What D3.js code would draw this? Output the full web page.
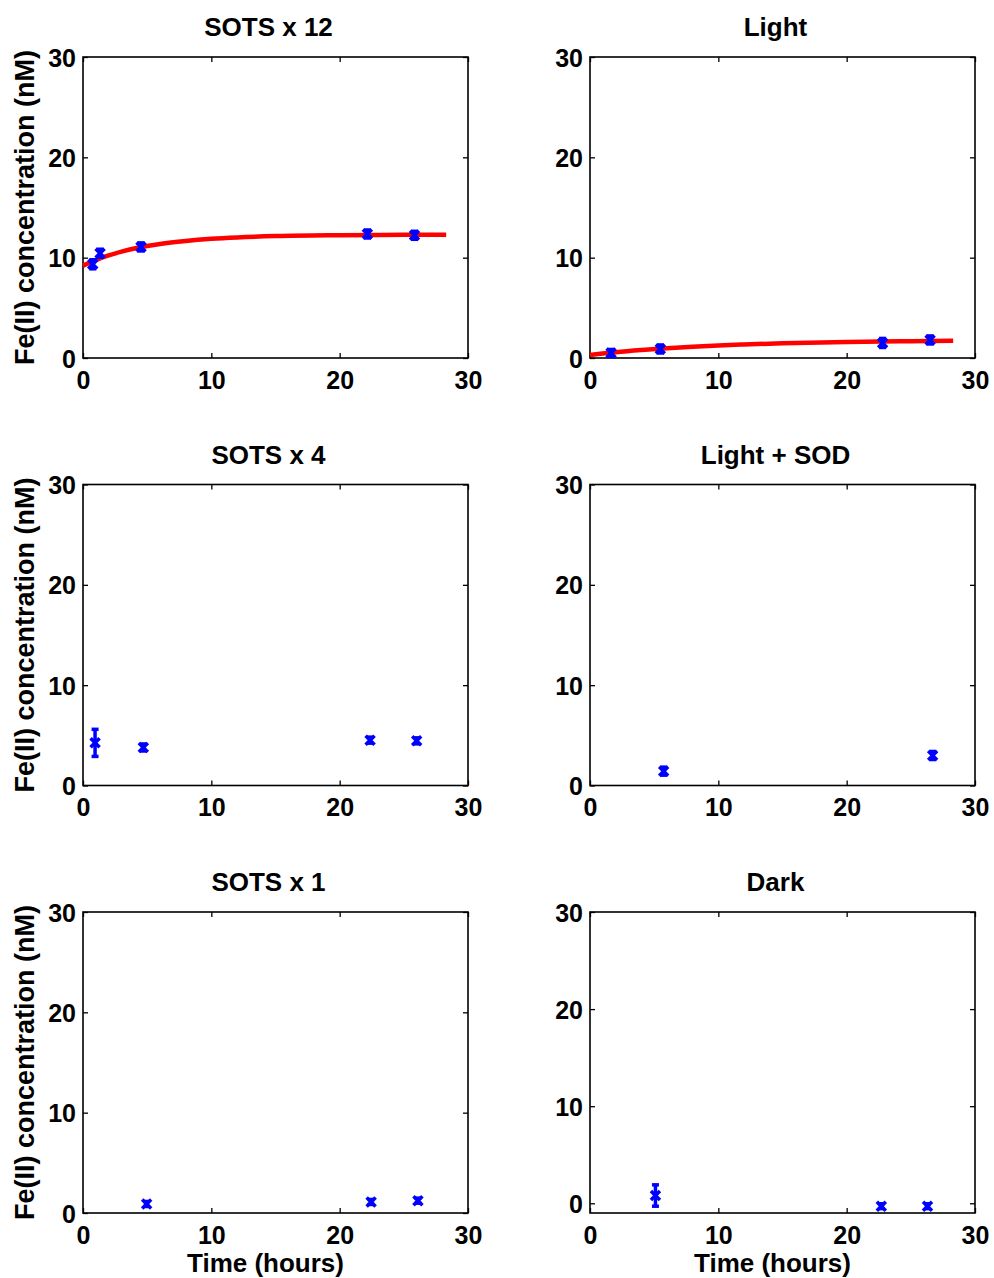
<!DOCTYPE html>
<html>
<head>
<meta charset="utf-8">
<script src="https://cdn.jsdelivr.net/npm/d3@7"></script>
<style>
  html, body { margin: 0; padding: 0; background: #fff; }
  svg { display: block; }
  text { font-family: "Liberation Sans", Arial, Helvetica, sans-serif; font-weight: bold; fill: #000; }
</style>
</head>
<body>
<svg id="fig" width="994" height="1278"></svg>
<script>
// Panel titles, row by row (left, right)
const titles = ["SOTS x 12", "Light", "SOTS x 4", "Light + SOD", "SOTS x 1", "Dark"];

// Shared axis ticks
const xTicks = [0, 10, 20, 30];
const yTicks = [0, 10, 20, 30];

// Measured Fe(II) (nM) vs time (hours), with ± error
const sots12Time = [0.76, 1.33, 4.52, 22.16, 25.83];
const sots12Fe   = [9.34, 10.44, 11.07, 12.36, 12.23];
const sots12Err  = [0.45, 0.4, 0.4, 0.4, 0.4];

const lightTime = [1.64, 5.48, 22.8, 26.5];
const lightFe   = [0.5, 0.9, 1.5, 1.8];
const lightErr  = [0.35, 0.4, 0.45, 0.4];

const sots4Time = [0.94, 4.7, 22.37, 26.0];
const sots4Fe   = [4.25, 3.79, 4.52, 4.45];
const sots4Err  = [1.35, 0.35, 0.3, 0.3];

const sodTime = [5.74, 26.7];
const sodFe   = [1.43, 2.99];
const sodErr  = [0.4, 0.4];

const sots1Time = [4.96, 22.45, 26.1];
const sots1Fe   = [0.9, 1.1, 1.23];
const sots1Err  = [0.25, 0.25, 0.25];

const darkTime = [5.1, 22.7, 26.3];
const darkFe   = [0.8, -0.3, -0.3];
const darkErr  = [1.1, 0.25, 0.25];

// Fitted model curves (hours, nM)
const fit12Time = [0, 1, 2, 3, 4, 5, 6, 8, 10, 12, 15, 20, 25, 28.3];
const fit12Fe   = [9.2, 9.76, 10.22, 10.6, 10.91, 11.16, 11.37, 11.67, 11.88, 12.02, 12.15, 12.24, 12.28, 12.29];

const fitLightTime = [0, 2, 4, 6, 8, 10, 12, 15, 20, 25, 28.3];
const fitLightFe   = [0.3, 0.57, 0.79, 0.98, 1.13, 1.25, 1.35, 1.47, 1.6, 1.68, 1.71];

const panels = [
  { title: titles[0], t: sots12Time, v: sots12Fe, e: sots12Err, ft: fit12Time, fv: fit12Fe, yMin: 0 },
  { title: titles[1], t: lightTime, v: lightFe, e: lightErr, ft: fitLightTime, fv: fitLightFe, yMin: 0 },
  { title: titles[2], t: sots4Time, v: sots4Fe, e: sots4Err, yMin: 0 },
  { title: titles[3], t: sodTime, v: sodFe, e: sodErr, yMin: 0 },
  { title: titles[4], t: sots1Time, v: sots1Fe, e: sots1Err, yMin: 0 },
  { title: titles[5], t: darkTime, v: darkFe, e: darkErr, yMin: -1 }
];

const svg = d3.select("#fig");
const colX = [83, 590];
const rowY = [57, 484.5, 912];
const W = 385, H = 301;

panels.forEach((p, i) => {
  const col = i % 2, row = Math.floor(i / 2);
  const g = svg.append("g").attr("transform", `translate(${colX[col]},${rowY[row]})`);

  const x = d3.scaleLinear().domain([0, 30]).range([0, W]);
  const y = d3.scaleLinear().domain([p.yMin, 30]).range([H, 0]);

  // Frame with inward ticks on all four sides
  const axStyle = sel => {
    sel.select(".domain").remove();
    sel.selectAll(".tick line").attr("stroke", "#000").attr("stroke-width", 1.3);
    sel.selectAll(".tick text").style("font-size", "25px").attr("fill", "#000");
  };
  g.append("g").attr("transform", `translate(0,${H})`)
    .call(d3.axisBottom(x).tickValues(xTicks).tickSize(-5).tickPadding(8).tickFormat(d3.format("d")))
    .call(axStyle)
    .call(s => s.selectAll(".tick text").attr("dy", "0.9em"));
  g.append("g")
    .call(d3.axisTop(x).tickValues(xTicks).tickSize(-5).tickFormat(""))
    .call(axStyle);
  g.append("g")
    .call(d3.axisLeft(y).tickValues(yTicks).tickSize(-5).tickPadding(7).tickFormat(d3.format("d")))
    .call(axStyle)
    .call(s => s.selectAll(".tick text").attr("dy", "0.36em"));
  g.append("g").attr("transform", `translate(${W},0)`)
    .call(d3.axisRight(y).tickValues(yTicks).tickSize(-5).tickFormat(""))
    .call(axStyle);
  g.append("rect").attr("width", W).attr("height", H)
    .attr("fill", "none").attr("stroke", "#000").attr("stroke-width", 1.6);

  // Fitted curve
  if (p.ft) {
    const line = d3.line().x(d => x(d[0])).y(d => y(d[1])).curve(d3.curveMonotoneX);
    g.append("path").datum(d3.zip(p.ft, p.fv))
      .attr("d", line).attr("fill", "none")
      .attr("stroke", "#ff0000").attr("stroke-width", 4.5);
  }

  // Data points with error bars and x markers
  const pts = d3.zip(p.t, p.v, p.e);
  const pg = g.append("g").attr("stroke", "#0000ff").attr("stroke-width", 3.5).attr("fill", "none");
  const cap = 3.5, m = 4.5;
  pts.forEach(([t, v, e]) => {
    const cx = x(t), top = y(v + e), bot = y(v - e), cy = y(v);
    pg.append("line").attr("x1", cx).attr("x2", cx).attr("y1", top).attr("y2", bot);
    pg.append("line").attr("x1", cx - cap).attr("x2", cx + cap).attr("y1", top).attr("y2", top);
    pg.append("line").attr("x1", cx - cap).attr("x2", cx + cap).attr("y1", bot).attr("y2", bot);
    pg.append("line").attr("x1", cx - m).attr("x2", cx + m).attr("y1", cy - m).attr("y2", cy + m);
    pg.append("line").attr("x1", cx - m).attr("x2", cx + m).attr("y1", cy + m).attr("y2", cy - m);
  });

  // Title
  g.append("text").attr("x", W / 2 - 7).attr("y", -21)
    .attr("text-anchor", "middle").style("font-size", "26px").text(p.title);

  // Axis labels
  if (col === 0) {
    g.append("text")
      .attr("transform", `translate(${24 - colX[0]},${H / 2}) rotate(-90)`)
      .attr("text-anchor", "middle").attr("dy", "0.36em")
      .style("font-size", "27px").text("Fe(II) concentration (nM)");
  }
  if (row === 2) {
    g.append("text").attr("x", W / 2 - 10).attr("y", H + 59)
      .attr("text-anchor", "middle").style("font-size", "26px").text("Time (hours)");
  }
});
</script>
</body>
</html>
